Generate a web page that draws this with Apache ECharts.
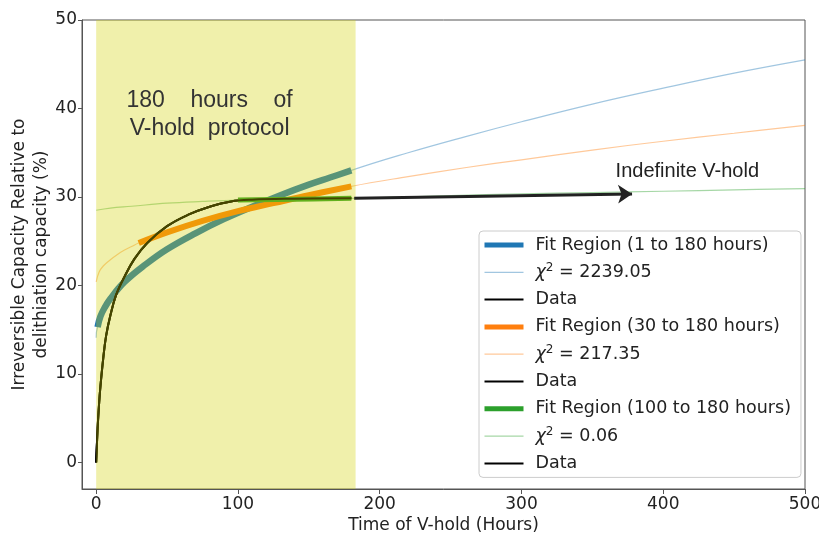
<!DOCTYPE html>
<html>
<head>
<meta charset="utf-8">
<script src="https://cdn.jsdelivr.net/npm/echarts@6/dist/echarts.min.js"></script>
<style>
  html, body { margin: 0; padding: 0; background: #fff; }
  #chart { width: 819px; height: 534px; }
</style>
</head>
<body>
<div id="chart"></div>
<script>
// Measured irreversible capacity during the voltage hold (hours, %)
const dataHours  = [0, 1, 2, 3, 5, 7, 10, 14, 20, 27, 36, 50, 65, 80, 95, 110, 140, 180];
const dataValues = [0, 3.8, 6.5, 8.6, 11.8, 14.3, 16.6, 18.9, 21.0, 23.0, 24.8, 26.7, 28.0, 28.9, 29.5, 29.7, 29.8, 29.85];

// Fit over 1-180 h: fitted window and full extrapolated curve
const fit1Hours  = [1, 3, 6, 10, 20, 35, 50, 70, 90, 110, 130, 150, 165, 180];
const fit1Values = [15.3, 16.5, 17.5, 18.5, 20.4, 22.4, 24.1, 25.9, 27.5, 28.9, 30.2, 31.4, 32.2, 33.0];
const ext1Hours  = [0, 1, 10, 50, 110, 180, 220, 260, 300, 350, 400, 450, 500];
const ext1Values = [14.1, 15.3, 18.5, 24.1, 28.9, 33.0, 35.0, 36.8, 38.5, 40.5, 42.3, 44.0, 45.5];

// Fit over 30-180 h
const fit2Hours  = [30, 50, 75, 100, 125, 150, 180];
const fit2Values = [24.8, 26.0, 27.3, 28.4, 29.3, 30.2, 31.2];
const ext2Hours  = [0, 2, 5, 10, 15, 20, 25, 30, 75, 125, 180, 220, 260, 300, 350, 400, 450, 500];
const ext2Values = [20.4, 21.5, 22.2, 22.9, 23.5, 24.0, 24.4, 24.8, 27.3, 29.3, 31.2, 32.3, 33.3, 34.2, 35.3, 36.3, 37.2, 38.1];

// Fit over 100-180 h
const fit3Hours  = [100, 140, 180];
const fit3Values = [29.65, 29.75, 29.85];
const ext3Hours  = [0, 10, 25, 50, 75, 100, 140, 180, 250, 300, 350, 400, 450, 500];
const ext3Values = [28.5, 28.75, 28.95, 29.3, 29.5, 29.65, 29.75, 29.85, 30.15, 30.35, 30.5, 30.65, 30.8, 30.95];

const fitLabels = ['Fit Region (1 to 180 hours)', 'Fit Region (30 to 180 hours)', 'Fit Region (100 to 180 hours)'];
const chiValues = ['2239.05', '217.35', '0.06'];

// Voltage-hold window and the "indefinite hold" arrow (hours, %)
const holdWindow = [0, 183];
const arrowStart = [182, 29.85];
const arrowEnd   = [378, 30.35];

const xTicks = [0, 100, 200, 300, 400, 500];
const yTicks = [0, 10, 20, 30, 40, 50];

const palette = ['#1f77b4', '#ff7f0e', '#2ca02c'];
const thickWidths = [6.5, 6, 5];

const pairs = (xs, ys) => xs.map((x, i) => [x, ys[i]]);
const fitSets = [
  [fit1Hours, fit1Values, ext1Hours, ext1Values],
  [fit2Hours, fit2Values, ext2Hours, ext2Values],
  [fit3Hours, fit3Values, ext3Hours, ext3Values]
];

const mplFont = 'DejaVu Sans';
const series = [];
const legendData = [];
const hidden = { opacity: 0 };
fitSets.forEach(([fh, fv, eh, ev], i) => {
  const chiName = 'χ2 = ' + chiValues[i];
  const dataName = 'Data ' + fitLabels[i].slice(11);
  series.push({
    name: fitLabels[i], type: 'line', data: pairs(fh, fv),
    symbol: 'none', smooth: 0.4,
    lineStyle: { color: palette[i], width: thickWidths[i] },
    itemStyle: { color: palette[i] }
  });
  series.push({
    name: chiName, type: 'line', data: pairs(eh, ev),
    symbol: 'none', smooth: 0.4,
    lineStyle: { color: palette[i], width: 1.2, opacity: 0.42 },
    itemStyle: { color: palette[i] }
  });
  series.push({
    name: dataName, type: 'line', data: pairs(dataHours, dataValues),
    symbol: 'none', smooth: 0.4,
    lineStyle: { color: '#000', width: 2 },
    itemStyle: { color: '#000' }
  });
  legendData.push({ name: fitLabels[i], lineStyle: { width: 5 }, itemStyle: hidden });
  legendData.push({ name: chiName, lineStyle: { width: 1.2 }, itemStyle: hidden });
  legendData.push({ name: dataName, lineStyle: { width: 2 }, itemStyle: hidden });
});

// Shaded hold window drawn over the curves
series.push({
  type: 'line', data: [], silent: true, z: 10,
  markArea: {
    silent: true, z: 10,
    itemStyle: { color: 'rgba(210,210,0,0.33)' },
    data: [[{ xAxis: holdWindow[0] }, { xAxis: holdWindow[1] }]]
  }
});

// Annotations and arrow
series.push({
  type: 'line', data: [], silent: true, z: 20,
  markPoint: {
    silent: true, z: 20, symbol: 'circle', symbolSize: 0,
    label: {
      show: true, position: 'inside', color: '#333',
      fontFamily: 'Liberation Sans', fontSize: 23, lineHeight: 28,
      formatter: p => p.name
    },
    data: [
      { name: '180    hours    of\nV-hold  protocol', coord: [80, 39.3] },
      { name: 'Indefinite V-hold', coord: [417, 32.9], label: { fontSize: 20, color: '#222' } }
    ]
  },
  markLine: {
    silent: true, z: 20, symbol: ['none', 'arrow'], symbolSize: 14,
    label: { show: false },
    lineStyle: { color: '#222', width: 3, type: 'solid' },
    data: [[{ coord: arrowStart }, { coord: arrowEnd }]]
  }
});

const chart = echarts.init(document.getElementById('chart'), null, { renderer: 'canvas' });
chart.setOption({
  animation: false,
  backgroundColor: '#fff',
  grid: {
    left: 82, right: 14, top: 20, bottom: 45, outerBoundsMode: 'none', containLabel: false,
    show: true, borderColor: '#555', borderWidth: 1
  },
  legend: {
    orient: 'vertical', left: 479, top: 231, selectedMode: false,
    padding: [4, 10, 4, 3], itemGap: 7.3, itemWidth: 39, itemHeight: 14,
    backgroundColor: 'rgba(255,255,255,0.85)', borderColor: '#ccc', borderWidth: 1, borderRadius: 4,
    itemStyle: { opacity: 0 },
    data: legendData,
    textStyle: {
      fontFamily: mplFont, fontSize: 17.5, color: '#222', lineHeight: 20, padding: [0, 0, 0, 7],
      rich: {
        chi: { fontFamily: mplFont, fontSize: 17.5, fontStyle: 'italic', color: '#222', lineHeight: 20 },
        sup: { fontFamily: mplFont, fontSize: 12, color: '#222', verticalAlign: 'top', lineHeight: 20, padding: [0, 0, 6, 0] },
        t: { fontFamily: mplFont, fontSize: 17.5, color: '#222', lineHeight: 20 }
      }
    },
    formatter: name => {
      if (name.startsWith('Data')) return 'Data';
      if (name.startsWith('χ2')) return '{chi|χ}{sup|2}{t|' + name.slice(2) + '}';
      return name;
    }
  },
  xAxis: {
    type: 'value', min: -10, max: 500,
    name: 'Time of V-hold (Hours)', nameLocation: 'middle', nameGap: 28, nameMoveOverlap: false,
    nameTextStyle: { fontFamily: mplFont, fontSize: 17, color: '#222' },
    axisLine: { show: true, onZero: false, lineStyle: { color: '#555' } },
    axisTick: { show: true, length: 5, customValues: xTicks, lineStyle: { color: '#555' } },
    axisLabel: { customValues: xTicks, fontFamily: mplFont, fontSize: 17, color: '#222', margin: 7 },
    splitLine: { show: false }
  },
  yAxis: {
    type: 'value', min: -3, max: 50,
    name: 'Irreversible Capacity Relative to\ndelithiation capacity (%)',
    nameLocation: 'middle', nameRotate: 90, nameGap: 29, nameMoveOverlap: false,
    nameTextStyle: { fontFamily: mplFont, fontSize: 17, color: '#222', lineHeight: 22 },
    axisLine: { show: true, onZero: false, lineStyle: { color: '#555' } },
    axisTick: { show: true, length: 4, customValues: yTicks, lineStyle: { color: '#555' } },
    axisLabel: { customValues: yTicks, fontFamily: mplFont, fontSize: 17, color: '#222', margin: 5 },
    splitLine: { show: false }
  },
  series: series
});
</script>
</body>
</html>
